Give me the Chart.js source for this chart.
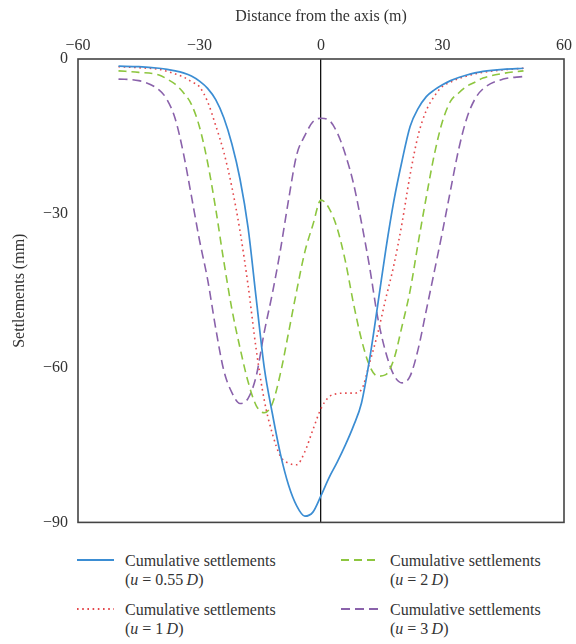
<!DOCTYPE html>
<html lang="en">
<head>
<meta charset="UTF-8">
<title>Cumulative settlements</title>
<script src="https://cdn.jsdelivr.net/npm/chart.js"></script>
<style>
  body { margin: 0; background: #fff; }
  #wrap { position: relative; width: 576px; height: 644px; }
  canvas { position: absolute; left: 0; top: 0; }
  .key { position: absolute; font-family: "Liberation Serif", serif; font-size: 16px; line-height: 19px; color: #333; }
  .key svg { position: absolute; top: 0; }
  .key span { position: absolute; white-space: nowrap; top: -9px; }
</style>
</head>
<body>
<div id="wrap">
  <canvas id="settlements" width="576" height="542"></canvas>
  <div id="legend"></div>
</div>

<script>
// distance from the tunnel axis (m)
const distances = [-50, -45, -40, -38, -36, -34, -32, -30, -28, -26, -24, -22, -20, -18, -16, -14, -12, -10, -8, -6, -4, -2,
  0, 2, 4, 6, 8, 10, 12, 14, 16, 18, 20, 22, 24, 26, 28, 30, 32, 34, 36, 38, 40, 45, 50];

// settlements (mm) for each spacing u
const settleU055 = [-1.4, -1.5, -1.8, -2.0, -2.3, -2.7, -3.3, -4.3, -5.7, -7.9, -11.4, -16.5, -23.3, -32.8, -46.5, -60, -68.9, -76.8, -82.8, -86.8, -88.8, -88,
  -84.8, -81.3, -78.3, -75, -71.3, -66.8, -58.3, -47.8, -37, -27.5, -19.8, -13.1, -9.6, -7.3, -6.0, -5.0, -4.2, -3.6, -3.1, -2.7, -2.4, -2.0, -1.8];
const settleU1 = [-1.5, -1.7, -2.0, -2.4, -2.9, -3.5, -4.4, -5.4, -8.3, -12.9, -18.1, -24.9, -33.4, -44, -56.4, -66.3, -72.8, -77.2, -78.5, -78.8, -76.3, -72,
  -67.9, -65.6, -65, -64.9, -64.9, -64.2, -59, -53.3, -46.5, -40, -31.9, -22.5, -14.8, -10, -7.2, -5.3, -4.5, -3.8, -3.3, -2.9, -2.6, -2.1, -1.8];
const settleU2 = [-2.3, -2.6, -3.1, -3.9, -4.9, -6.5, -8.8, -13.2, -20.1, -29.1, -39.3, -48.6, -56.1, -62.7, -67.3, -68.7, -66.9, -61, -53.1, -45, -37.5, -32.2,
  -27.4, -29, -32.9, -39.2, -47.4, -54.5, -59.6, -61.6, -61.3, -58.3, -51.9, -45, -35.7, -26.8, -18.5, -12.1, -8.2, -6.6, -5.3, -4.5, -3.7, -2.8, -2.3];
const settleU3 = [-3.9, -4.2, -6.0, -7.9, -11.6, -18.2, -26.6, -35.2, -42.8, -52.3, -60.5, -64.8, -66.9, -65.9, -61.6, -53, -45.5, -37, -27.3, -18.6, -14.9, -12.2,
  -11.5, -11.9, -14.3, -18.5, -24.1, -31.8, -40.4, -50.2, -57, -61.4, -62.9, -61.6, -56.3, -48.8, -41.2, -33.5, -25.4, -17.5, -11.5, -7.8, -5.8, -3.9, -3.4];

const xTicks = [-60, -30, 0, 30, 60];
const yTicks = [0, -30, -60, -90];

const seriesNames = ['0.55', '1', '2', '3'];
const seriesColors = ['#3b8dd3', '#e4474b', '#8dc63f', '#8a62ab'];
const seriesDash = [[], [1.6, 3.6], [8, 5], [9, 5]];
const seriesData = [settleU055, settleU1, settleU2, settleU3];

const serif = '"Liberation Serif", "Times New Roman", serif';
const minus = v => String(v).replace('-', '\u2212');

// right and bottom edges of the plot frame
const frame = {
  id: 'frame',
  afterDraw(chart) {
    const { ctx, chartArea: a } = chart;
    ctx.save();
    ctx.strokeStyle = '#444';
    ctx.lineWidth = 1.6;
    ctx.strokeRect(a.left, a.top, a.right - a.left, a.bottom - a.top);
    ctx.restore();
  }
};

new Chart(document.getElementById('settlements'), {
  type: 'line',
  data: {
    datasets: seriesData.map((vals, i) => ({
      label: 'Cumulative settlements (u = ' + seriesNames[i] + 'D)',
      data: distances.map((d, k) => ({ x: d, y: vals[k] })),
      borderColor: seriesColors[i],
      borderDash: seriesDash[i],
      borderWidth: i === 0 ? 1.7 : 1.6,
      pointRadius: 0,
      cubicInterpolationMode: 'monotone',
      fill: false
    }))
  },
  options: {
    responsive: false,
    animation: false,
    layout: { padding: { left: 0, top: 0, right: 10, bottom: 8 } },
    plugins: { legend: { display: false }, tooltip: { enabled: false } },
    scales: {
      x: {
        type: 'linear',
        position: 'top',
        min: -60,
        max: 60,
        afterBuildTicks: s => { s.ticks = xTicks.map(v => ({ value: v })); },
        afterFit: s => { s.height = 59; },
        ticks: { color: '#333', padding: 4, font: { family: serif, size: 16 }, callback: minus },
        grid: {
          drawTicks: false,
          color: c => (c.tick && c.tick.value === 0 ? '#111' : 'rgba(0,0,0,0)'),
          lineWidth: 1.3
        },
        border: { display: false },
        title: { display: true, text: 'Distance from the axis (m)', color: '#333', padding: { top: 7, bottom: 0 }, font: { family: serif, size: 16 } }
      },
      y: {
        min: -90,
        max: 0,
        afterBuildTicks: s => { s.ticks = yTicks.map(v => ({ value: v })); },
        afterFit: s => { s.width = 78; },
        ticks: { color: '#333', padding: 10, font: { family: serif, size: 16 }, callback: minus },
        grid: { display: false, drawTicks: false },
        border: { display: false },
        title: { display: true, text: 'Settlements (mm)', color: '#333', padding: { top: 10, bottom: 0 }, font: { family: serif, size: 16 } }
      }
    }
  },
  plugins: [frame]
});

// legend: two columns, two rows
const legendPos = [
  { x: 77, y: 560, tx: 125 },
  { x: 77, y: 609, tx: 125 },
  { x: 341, y: 560, tx: 390 },
  { x: 341, y: 609, tx: 390 }
];
const legend = document.getElementById('legend');
seriesNames.forEach((name, i) => {
  const p = legendPos[i];
  const el = document.createElement('div');
  el.className = 'key';
  el.style.left = p.x + 'px';
  el.style.top = p.y + 'px';
  const dash = seriesDash[i].length ? seriesDash[i].join(' ') : 'none';
  el.innerHTML =
    '<svg width="37" height="4" style="left:0;top:-2px"><line x1="0" y1="2" x2="37" y2="2" stroke="' + seriesColors[i] +
    '" stroke-width="2" stroke-dasharray="' + dash + '"/></svg>' +
    '<span style="left:' + (p.tx - p.x) + 'px">Cumulative settlements<br>(<i>u</i> = ' + name + '\u2009<i>D</i>)</span>';
  legend.appendChild(el);
});
</script>
</body>
</html>
